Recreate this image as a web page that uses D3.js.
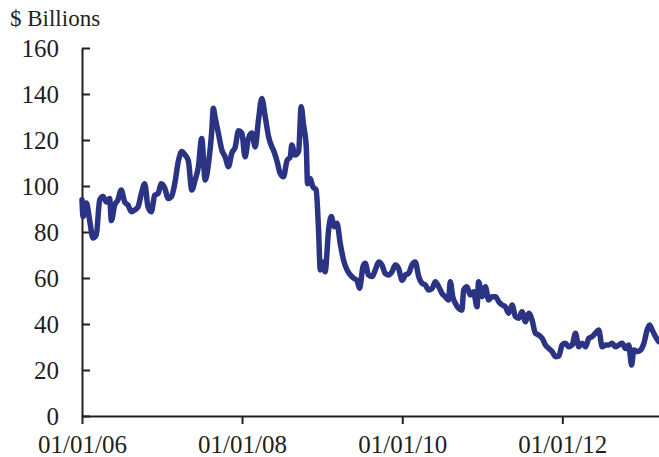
<!DOCTYPE html>
<html>
<head>
<meta charset="utf-8">
<script src="https://cdn.jsdelivr.net/npm/d3@7"></script>
<style>
  body { margin: 0; background: #fff; }
  svg { display: block; }
  .axis text { font-family: "Liberation Serif", "Times New Roman", serif; font-size: 25px; fill: #231f20; }
  .axis path, .axis line { stroke: #231f20; stroke-width: 2px; }
</style>
</head>
<body>
<main></main>
<script>
// time as decimal years since 01/01/06
var years = [0, 0.0125, 0.054, 0.096, 0.1375, 0.179, 0.221, 0.2625, 0.304, 0.346,
  0.366, 0.409, 0.45, 0.491, 0.534, 0.575, 0.616, 0.659, 0.70, 0.741,
  0.784, 0.825, 0.866, 0.909, 0.95, 0.991, 1.034, 1.075, 1.116, 1.159,
  1.204, 1.246, 1.2875, 1.329, 1.371, 1.4125, 1.454, 1.496, 1.5375, 1.579,
  1.621, 1.641, 1.6625, 1.704, 1.746, 1.7875, 1.829, 1.871, 1.9125, 1.954,
  1.996, 2.0375, 2.079, 2.121, 2.1625, 2.204, 2.246, 2.2875, 2.329, 2.371,
  2.391, 2.434, 2.475, 2.516, 2.559, 2.60, 2.621, 2.6625, 2.704, 2.7375,
  2.766, 2.80, 2.816, 2.85, 2.884, 2.925, 2.954, 2.975, 3.009, 3.0375,
  3.079, 3.1125, 3.15, 3.184, 3.225, 3.266, 3.309, 3.35, 3.391, 3.434,
  3.466, 3.509, 3.5375, 3.579, 3.621, 3.6625, 3.704, 3.746, 3.7875, 3.829,
  3.871, 3.9125, 3.954, 3.996, 4.0375, 4.079, 4.121, 4.1625, 4.204, 4.246,
  4.2875, 4.329, 4.371, 4.4125, 4.454, 4.496, 4.5375, 4.579, 4.60, 4.629,
  4.6625, 4.704, 4.746, 4.766, 4.809, 4.85, 4.891, 4.934, 4.954, 4.996,
  5.0375, 5.079, 5.121, 5.1625, 5.204, 5.246, 5.2875, 5.329, 5.371, 5.4125,
  5.454, 5.496, 5.5375, 5.579, 5.621, 5.6625, 5.704, 5.746, 5.7875, 5.829,
  5.871, 5.9125, 5.954, 5.996, 6.0375, 6.079, 6.121, 6.1625, 6.204, 6.246,
  6.2875, 6.329, 6.371, 6.4125, 6.454, 6.496, 6.5375, 6.579, 6.621, 6.6625,
  6.704, 6.746, 6.7875, 6.829, 6.8625, 6.891, 6.934, 6.975, 7.016, 7.059,
  7.0875, 7.121, 7.1625, 7.204];

var billions = [94, 86.7, 92.6, 85, 77.4, 78.7, 94, 95.4, 93, 94.6,
  85, 91.7, 94, 98.3, 93, 91.7, 88.8, 89.6, 91, 96.8,
  101, 91, 88.8, 96, 96.8, 101, 99, 94.6, 95.4, 101,
  111, 115, 113.5, 111, 98.3, 102.6, 108.4, 120.7, 102.6, 109.8,
  124, 133.8, 130, 123, 115.6, 112.7, 108.4, 114.2, 117, 124,
  123, 112.7, 120.7, 123, 117, 128.7, 138, 130, 121.5, 117,
  115.6, 111, 105.5, 104, 111, 112.7, 117.8, 113.5, 115, 134.5,
  127, 117, 101, 103.3, 99.7, 98.3, 81, 63.5, 67, 62.7,
  81, 86.7, 82.3, 83.8, 75, 67.8, 63.5, 61.3, 59.9, 59,
  55.5, 65, 66.4, 61.3, 60.6, 63.5, 67, 65.7, 62, 61.3,
  62.7, 65.7, 64.2, 59, 61.3, 62, 65.7, 67, 60.6, 57.7,
  57, 54.8, 55.5, 58.4, 56.2, 53.3, 51.9, 50.4, 58.4, 51.9,
  49, 46.8, 46, 54.8, 56.2, 52.6, 54, 47.5, 58.4, 51.9,
  56.2, 50.4, 51.9, 51.9, 49.7, 48.3, 47.5, 44.7, 48.3, 43.2,
  42.5, 45.3, 41, 44.7, 41.7, 36, 35.2, 33.8, 30.9, 29.4,
  28, 25.8, 26, 30.9, 31.6, 30.1, 30.9, 36, 30.1, 31.6,
  30.1, 33.8, 34.5, 36, 37.4, 30.1, 30.9, 30.9, 31.6, 30.1,
  30.9, 31.6, 29.4, 30.9, 22.2, 28.7, 28, 28.7, 31.6, 37.4,
  39.6, 37.4, 34.5, 32.3];

var yTicks = [0, 20, 40, 60, 80, 100, 120, 140, 160];
var xTicks = ["2006-01-01", "2008-01-01", "2010-01-01", "2012-01-01"];

var width = 659, height = 457;
var margin = {top: 48, right: 0, bottom: 41, left: 82};

var parse = d3.timeParse("%Y-%m-%d");
var start = parse("2006-01-01");
var data = years.map(function(t, i) {
  return {date: d3.timeDay.offset(start, Math.round(t * 365.25)), value: billions[i]};
});

var x = d3.scaleTime()
  .domain([start, parse("2013-03-17")])
  .range([margin.left, width - margin.right]);
var y = d3.scaleLinear()
  .domain([0, 160])
  .range([height - margin.bottom, margin.top]);

var svg = d3.select("main").append("svg")
  .attr("width", width)
  .attr("height", height);

svg.append("text")
  .attr("x", 10)
  .attr("y", 26)
  .style("font-family", '"Liberation Serif", "Times New Roman", serif')
  .style("font-size", "23px")
  .style("fill", "#231f20")
  .text("$ Billions");

svg.append("g")
  .attr("class", "axis axis--y")
  .attr("transform", "translate(" + margin.left + ",0)")
  .call(d3.axisLeft(y).tickValues(yTicks).tickSizeInner(-8).tickSizeOuter(0).tickPadding(23));

svg.append("g")
  .attr("class", "axis axis--x")
  .attr("transform", "translate(0," + (height - margin.bottom) + ")")
  .call(d3.axisBottom(x).tickValues(xTicks.map(parse)).tickFormat(d3.timeFormat("%m/%d/%y"))
    .tickSizeInner(8).tickSizeOuter(0).tickPadding(11));

var line = d3.line()
  .x(function(d) { return x(d.date); })
  .y(function(d) { return y(d.value); })
  .curve(d3.curveMonotoneX);

svg.append("path")
  .datum(data)
  .attr("fill", "none")
  .attr("stroke", "#2a3384")
  .attr("stroke-width", 5.5)
  .attr("stroke-linejoin", "round")
  .attr("stroke-linecap", "round")
  .attr("d", line);
</script>
</body>
</html>
